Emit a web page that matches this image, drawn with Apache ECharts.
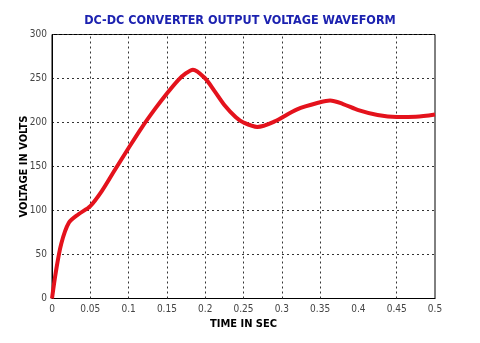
<!DOCTYPE html>
<html>
<head>
<meta charset="utf-8">
<script src="https://cdn.jsdelivr.net/npm/echarts@6/dist/echarts.min.js"></script>
<style>
  html, body { margin: 0; padding: 0; background: #fff; }
  #chart { width: 480px; height: 343px; }
</style>
</head>
<body>
<div id="chart"></div>
<script>
// time (s) and output voltage (V)
const timeSec = [0, 0.005, 0.012, 0.022, 0.035, 0.05, 0.065, 0.082, 0.1, 0.117, 0.135, 0.15, 0.1645, 0.175, 0.184, 0.2, 0.212, 0.225, 0.24, 0.25, 0.268, 0.29, 0.32, 0.35, 0.363, 0.38, 0.4, 0.425, 0.45, 0.475, 0.5];
const voltage = [0, 30, 62, 86, 96, 105, 122, 146, 171, 194, 216, 233, 248, 256, 260, 250, 236, 220, 206, 200, 195, 201, 215, 223, 225, 221, 214, 208.5, 206.3, 206.5, 209];

// vertical grid lines (the 0.4 one is absent in the original)
const gridTimes = [0.05, 0.1, 0.15, 0.2, 0.25, 0.3, 0.35, 0.45];

const narrowFont = '"DejaVu Sans Condensed", "Liberation Sans Narrow", "Liberation Sans", Arial, sans-serif';
const gridStyle = { color: '#333', width: 1, type: [2, 3] };

const chart = echarts.init(document.getElementById('chart'));

chart.setOption({
  animation: false,
  title: {
    text: 'DC-DC CONVERTER OUTPUT VOLTAGE WAVEFORM',
    left: 'center',
    top: 9,
    textStyle: {
      color: '#1c22b0',
      fontFamily: narrowFont,
      fontWeight: 'bold',
      fontSize: 12.5
    }
  },
  grid: {
    left: 52,
    right: 45,
    top: 34.5,
    bottom: 44.5,
    show: true,
    borderColor: '#000',
    borderWidth: 1
  },
  xAxis: {
    type: 'value',
    min: 0,
    max: 0.5,
    interval: 0.05,
    name: 'TIME IN SEC',
    nameLocation: 'middle',
    nameGap: 20,
    nameMoveOverlap: false,
    nameTextStyle: { color: '#000', fontWeight: 'bold', fontSize: 11, fontFamily: narrowFont },
    axisLine: { lineStyle: { color: '#000' } },
    axisTick: { show: false },
    splitLine: { show: false },
    axisLabel: {
      color: '#444',
      fontSize: 10,
      fontFamily: narrowFont,
      margin: 6,
      formatter: v => String(Math.round(v * 100) / 100)
    }
  },
  yAxis: {
    type: 'value',
    min: 0,
    max: 300,
    interval: 50,
    name: 'VOLTAGE IN VOLTS',
    nameLocation: 'middle',
    nameGap: 22,
    nameMoveOverlap: false,
    nameTextStyle: { color: '#000', fontWeight: 'bold', fontSize: 11, fontFamily: narrowFont },
    axisLine: { show: true, lineStyle: { color: '#000' } },
    axisTick: { show: false },
    splitLine: { show: true, lineStyle: gridStyle },
    axisLabel: {
      color: '#444',
      fontSize: 10,
      fontFamily: narrowFont,
      margin: 5
    }
  },
  series: [{
    type: 'line',
    data: timeSec.map((t, i) => [t, voltage[i]]),
    smooth: 0.3,
    symbol: 'none',
    lineStyle: { color: '#e4121c', width: 4 },
    z: 3,
    markLine: {
      silent: true,
      symbol: 'none',
      label: { show: false },
      lineStyle: gridStyle,
      z: 1,
      data: gridTimes.map(t => ({ xAxis: t }))
    }
  }]
});
</script>
</body>
</html>
